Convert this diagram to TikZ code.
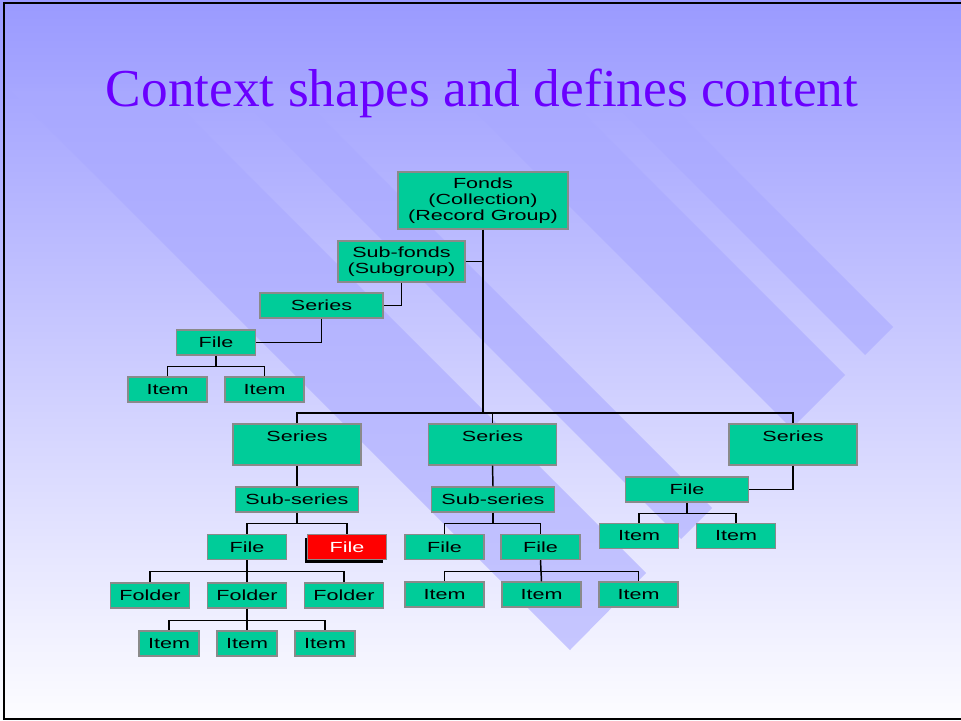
\documentclass[tikz,border=0pt]{standalone}
\usepackage{fontspec}
\setmainfont{Liberation Sans}
\newfontfamily\boxfont[FakeStretch=1.47]{Liberation Sans}
\newfontfamily\titlefont{Liberation Serif}
\usetikzlibrary{shadows}
\definecolor{boxfill}{HTML}{00CC99}
\definecolor{boxline}{HTML}{8A8A8A}
\definecolor{bgtop}{HTML}{9A9AFF}
\definecolor{bgbot}{HTML}{FDFDFF}
\definecolor{bandc}{HTML}{A9A9FF}
\definecolor{titlec}{HTML}{6A00FF}
\begin{document}
\begin{tikzpicture}[x=0.75pt,y=-0.75pt,
  box/.style={draw=boxline,fill=boxfill,line width=1.1pt,inner sep=0pt,
    font=\boxfont\fontsize{11}{12}\selectfont,align=center,
    minimum width=59pt,minimum height=18.75pt},
  wbox/.style={box,minimum width=92pt},
  bigbox/.style={box,minimum width=96pt,minimum height=30.75pt},
  smallitem/.style={box,minimum width=45pt},
  redbox/.style={box,fill=red,text=white,
    drop shadow={shadow xshift=-2.25pt,shadow yshift=-2.25pt,opacity=1,fill=black}},
  conn/.style={draw=black,line width=1.1pt},
  band/.style={fill=bandc,fill opacity=0.6,draw=none}]
\useasboundingbox (0,0) rectangle (961,721);
% background
\shade[top color=bgtop,bottom color=bgbot] (0,0) rectangle (961,721);
\fill[band] (8,88) -- (161,88) -- (646,573) -- (570,650) -- cycle;
\fill[band] (230,88) -- (292,88) -- (712,508) -- (681,539) -- cycle;
\fill[band] (451,88) -- (558,88) -- (845,375) -- (791.5,428.5) -- cycle;
\fill[band] (598,88) -- (654,88) -- (893,327) -- (865,355) -- cycle;
% frame
\draw[line width=2.2pt] (961,3) -- (4,3) -- (4,719) -- (961,719);
% title
\node[anchor=base,text=titlec,font=\titlefont\fontsize{40}{48}\selectfont,inner sep=0pt]
  (title) at (482,106) {Context shapes and defines content};
% nodes
\node[box,minimum width=127.5pt,minimum height=42.75pt] (fonds) at (483,200.5) {Fonds\\(Collection)\\(Record Group)};
\node[box,minimum width=95.25pt,minimum height=30.75pt] (subfonds) at (401.5,261.5) {Sub-fonds\\(Subgroup)};
\node[wbox] (seriesA) at (321.5,305.5) {Series};
\node[box] (fileA) at (216,342.5) {File};
\node[box] (itemA1) at (167.5,389.5) {Item};
\node[box] (itemA2) at (264.5,389.5) {Item};
\node[bigbox] (seriesL) at (297,444.5) {Series\\\mbox{}};
\node[bigbox] (seriesM) at (492.5,444.5) {Series\\\mbox{}};
\node[bigbox] (seriesR) at (793,444.5) {Series\\\mbox{}};
\node[wbox] (subL) at (297,499.5) {Sub-series};
\node[wbox] (subM) at (493,499.5) {Sub-series};
\node[wbox] (fileR) at (687,489.5) {File};
\node[box] (itemR1) at (639,536) {Item};
\node[box] (itemR2) at (736,536) {Item};
\node[box] (fileL1) at (247,547) {File};
\node[redbox] (fileL2) at (347,547) {File};
\node[box] (fileM1) at (444.5,547) {File};
\node[box] (fileM2) at (540.5,547) {File};
\node[box] (folder1) at (150,595.5) {Folder};
\node[box] (folder2) at (247,595.5) {Folder};
\node[box] (folder3) at (344,595.5) {Folder};
\node[smallitem] (itemL1) at (169,643.5) {Item};
\node[smallitem] (itemL2) at (247,643.5) {Item};
\node[smallitem] (itemL3) at (325,643.5) {Item};
\node[box] (itemM1) at (444.5,594.5) {Item};
\node[box] (itemM2) at (541.5,594.5) {Item};
\node[box] (itemM3) at (638.5,594.5) {Item};
\coordinate (bus) at (483,413);
% connectors
\draw[conn] (fonds.south) -- (bus);
\draw[conn] (subfonds.east) -- (subfonds.east -| fonds.south);
\draw[conn] (subfonds.south) |- (seriesA.east);
\draw[conn] (seriesA.south) |- (fileA.east);
\draw[conn] (fileA.south) -- ++(0,11) -| (itemA1.north);
\draw[conn] (fileA.south) ++(0,11) -| (itemA2.north);
\draw[conn] (seriesL.north) |- (bus) -| (seriesR.north);
\draw[conn] (seriesM.north) -- (seriesM.north |- bus);
\draw[conn] (seriesL.south) -- (subL.north);
\draw[conn] (seriesM.south) -- (subM.north);
\draw[conn] (seriesR.south) |- (fileR.east);
\draw[conn] (fileR.south) -- ++(0,11) -| (itemR1.north);
\draw[conn] (fileR.south) ++(0,11) -| (itemR2.north);
\draw[conn] (subL.south) -- ++(0,11) -| (fileL1.north);
\draw[conn] (subL.south) ++(0,11) -| (fileL2.north);
\draw[conn] (subM.south) -- ++(0,11) -| (fileM1.north);
\draw[conn] (subM.south) ++(0,11) -| (fileM2.north);
\draw[conn] (fileL1.south) -- ++(0,11.5) -| (folder1.north);
\draw[conn] (fileL1.south) ++(0,11.5) -| (folder3.north);
\draw[conn] (fileL1.south) -- (folder2.north);
\draw[conn] (folder2.south) -- ++(0,11.5) -| (itemL1.north);
\draw[conn] (folder2.south) ++(0,11.5) -| (itemL3.north);
\draw[conn] (folder2.south) -- (itemL2.north);
\draw[conn] (fileM2.south) -- ++(0,11) -| (itemM1.north);
\draw[conn] (fileM2.south) ++(0,11) -| (itemM3.north);
\draw[conn] (fileM2.south) -- (itemM2.north);
\end{tikzpicture}
\end{document}
